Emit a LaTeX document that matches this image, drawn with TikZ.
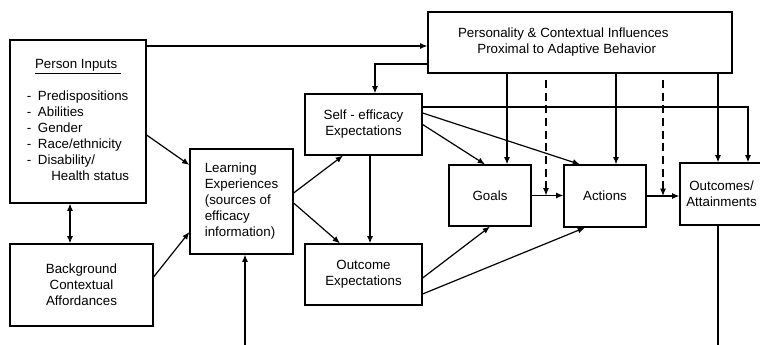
\documentclass[tikz,border=0pt]{standalone}
\usepackage{fontspec}
\setmainfont{Liberation Sans}
\usepackage{tikz}
\usetikzlibrary{positioning,arrows.meta}

\begin{document}
\begin{tikzpicture}[x=0.75pt, y=-0.75pt,
    >={Latex[length=5.5pt,width=4.5pt]},
    box/.style={draw, line width=0.9pt, inner sep=0pt, align=center},
    arr/.style={line width=0.9pt, ->},
    dasharr/.style={arr, dash pattern=on 6pt off 3.5pt}]
\useasboundingbox (0,0) rectangle (760,345);
\clip (0,0) rectangle (760,345);

% boxes
\node[box, minimum width=102pt, minimum height=122.25pt] (person) at (78,121.5)
  {\begin{tabular}{@{}l@{\hspace{5pt}}l@{}}
   \multicolumn{2}{c}{\underline{Person Inputs\ }}\\[12pt]
   - & Predispositions\\
   - & Abilities\\
   - & Gender\\
   - & Race/ethnicity\\
   - & Disability/\\
     & \hspace{10pt}Health status
   \end{tabular}};
\node[box, minimum width=107.25pt, minimum height=61.5pt] (background) at (81.5,285)
  {Background\\Contextual\\Affordances};
\node[box, align=left, minimum width=77.25pt, minimum height=78.75pt] (learning) at (241.5,201.5)
  {Learning\\Experiences\\(sources of\\efficacy\\information)};
\node[box, minimum width=87.75pt, minimum height=45.75pt] (selfeff) at (363.5,124.5)
  {Self - efficacy\\Expectations};
\node[box, minimum width=87.75pt, minimum height=45.75pt] (outexp) at (363.5,274.5)
  {Outcome\\Expectations};
\node[box, minimum width=228pt, minimum height=45.75pt] (personality) at (580,42.5)
  {Personality \& Contextual Influences\hspace*{25pt}\\Proximal to Adaptive Behavior\hspace*{20pt}};
\node[box, minimum width=61.5pt, minimum height=45.75pt] (goals) at (490,195.5) {Goals};
\node[box, minimum width=61.5pt, minimum height=46.5pt] (actions) at (605,196) {Actions};
\node[box, minimum width=62.25pt, minimum height=46.5pt] (outcomes) at (721.5,194)
  {Outcomes/\\Attainments};

% loose ends
\coordinate (dashA) at (546,80);
\coordinate (dashB) at (663,80);
\coordinate (bottomL) at (245,345);
\coordinate (bottomR) at (718,345);

% arrows
\draw[arr] (person.east |- 0,46) -- (personality.west |- 0,46);
\draw[arr] (personality.west |- 0,64) -| (selfeff.north -| 375,0);
\foreach \X/\T in {507/goals, 616/actions, 718/outcomes}{
    \draw[arr] (personality.south -| \X,0) -- (\T.north -| \X,0);
}
\draw[dasharr] (dashA) -- (dashA |- goals.east);
\draw[dasharr] (dashB) -- (dashB |- actions.east);
\draw[arr] (selfeff.east |- 0,107) -| (outcomes.north -| 748,0);
\draw[arr] (selfeff.east) -- (goals.north -| 485,0);
\draw[arr] (selfeff.east |- 0,113) -- (actions.north -| 580,0);
\draw[arr] (selfeff.south -| 370,0) -- (outexp.north -| 370,0);
\draw[arr] (learning.east |- 0,193) -- (selfeff.south -| 343,0);
\draw[arr] (learning.east |- 0,203) -- (outexp.north -| 340,0);
\draw[arr] (person.east |- 0,135) -- (learning.west |- 0,165);
\draw[arr, <->] (person.south -| 70,0) -- (background.north -| 70,0);
\draw[arr] (background.east |- 0,277) -- (learning.west |- 0,232);
\draw[arr] (outexp.east |- 0,278) -- (goals.south);
\draw[arr] (outexp.east |- 0,294) -- (actions.south -| 585,0);
\draw[arr] (goals.east) -- (actions.west |- goals.east);
\draw[arr] (actions.east) -- (outcomes.west |- actions.east);
\draw[line width=0.9pt] (outcomes.south -| bottomR) -- (bottomR);
\draw[arr] (bottomL) -- (learning.south -| bottomL);

\end{tikzpicture}
\end{document}
